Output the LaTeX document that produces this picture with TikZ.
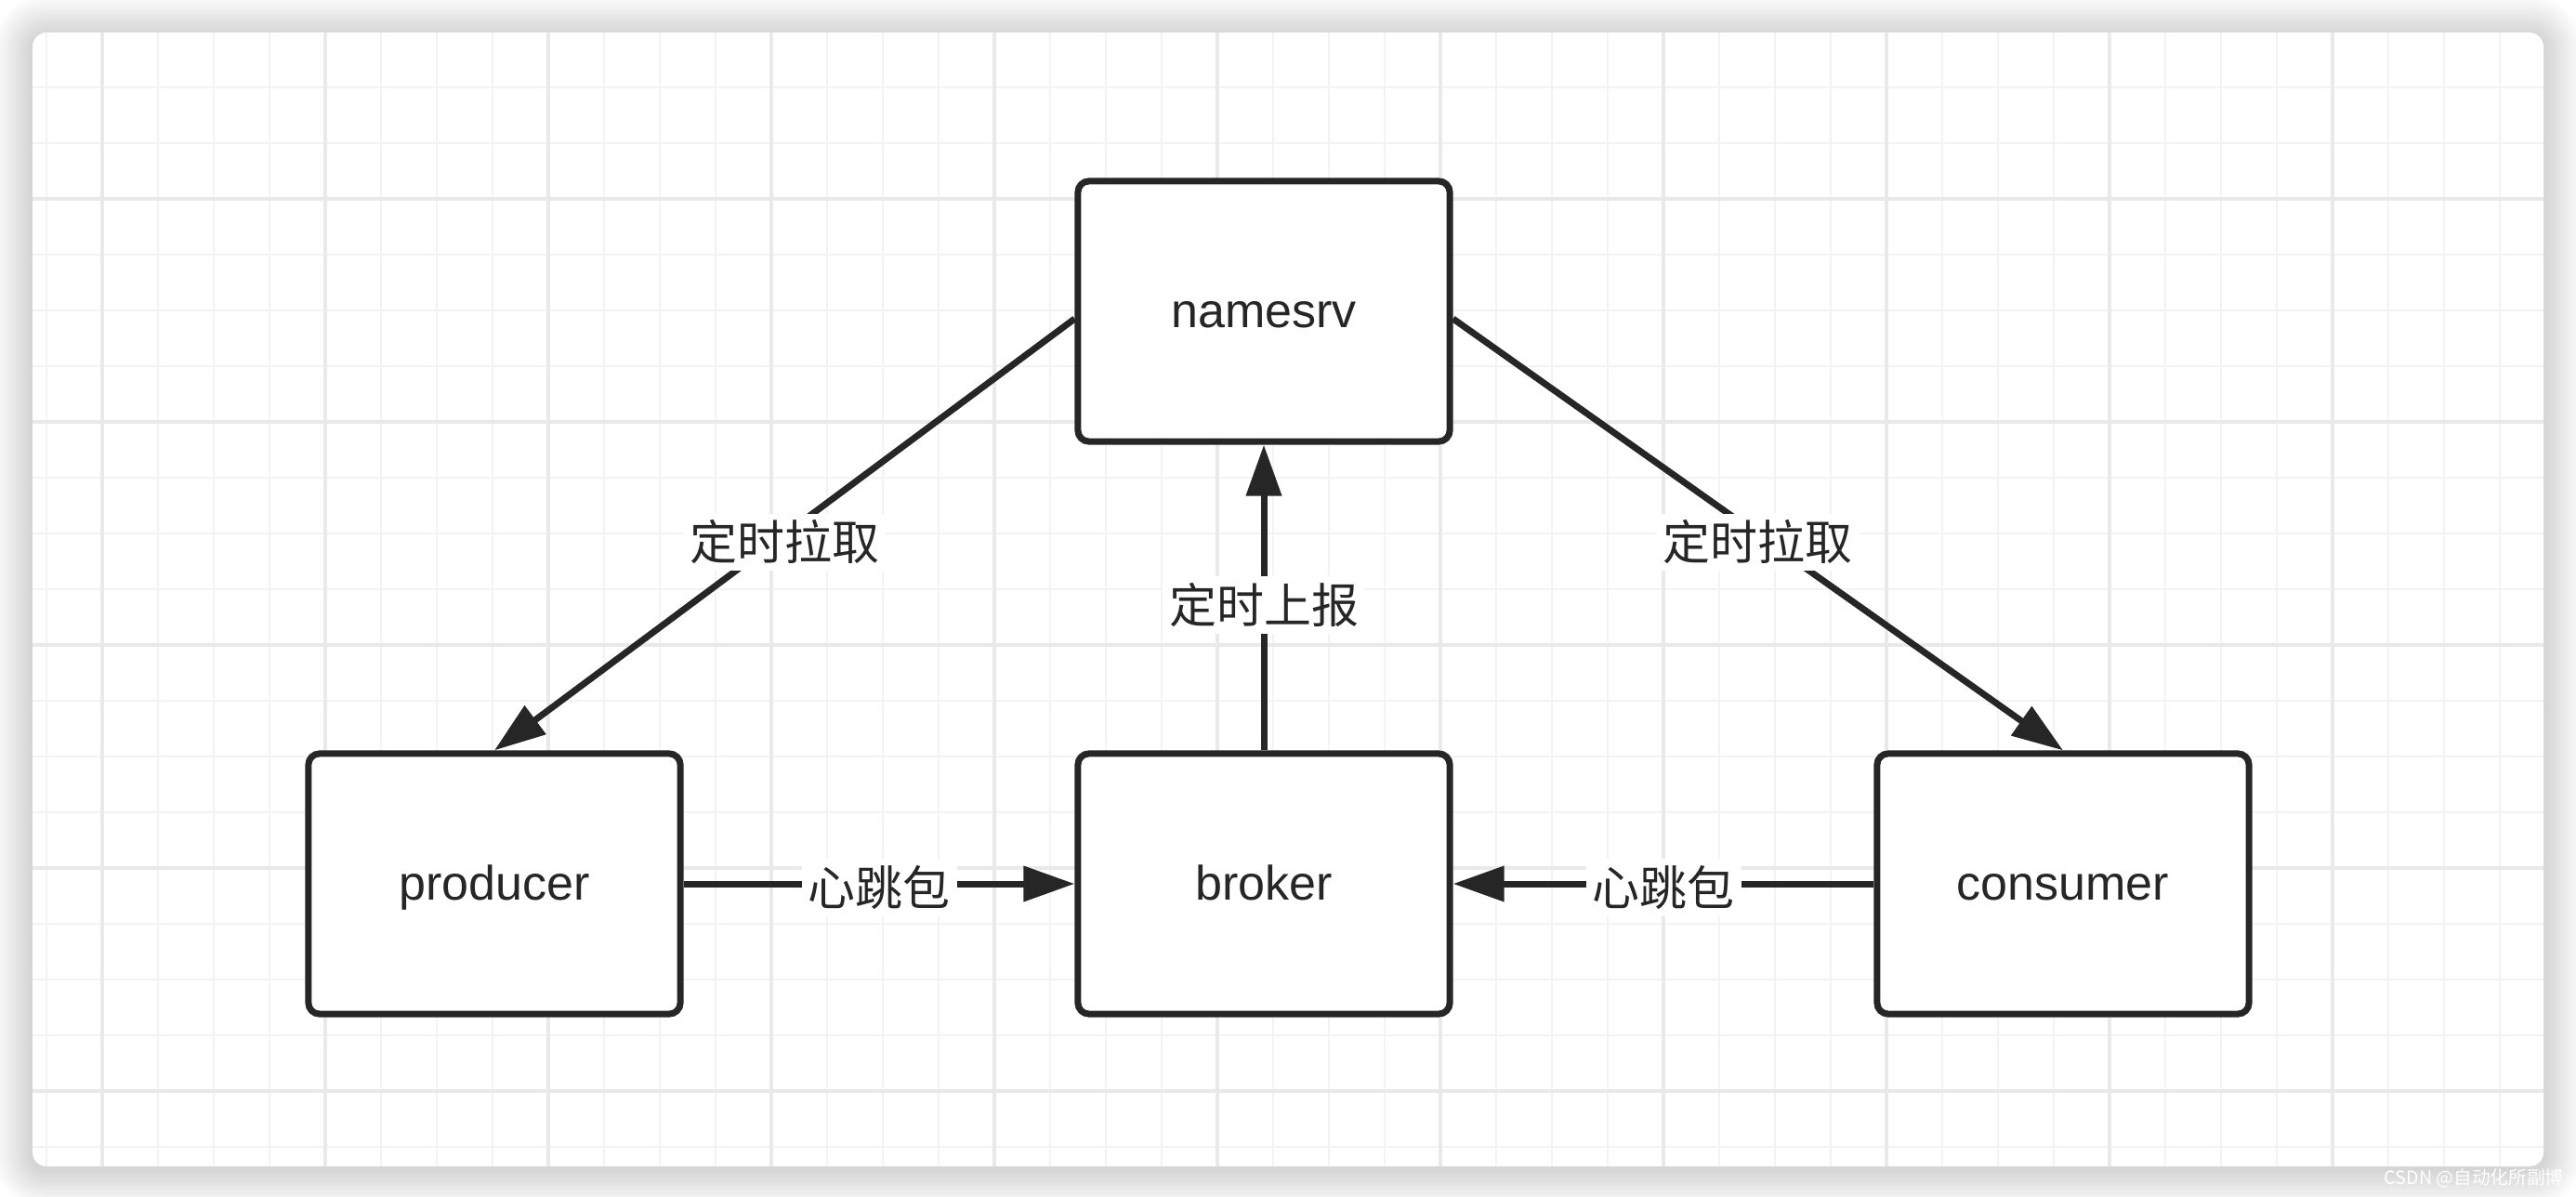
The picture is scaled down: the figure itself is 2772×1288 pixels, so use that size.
\documentclass[tikz,border=0pt]{standalone}
\usepackage{fontspec}
\setmainfont{Liberation Sans}
\newfontfamily\cjk{Noto Sans CJK SC}
\usetikzlibrary{arrows.meta}
\definecolor{ink}{HTML}{262626}
\definecolor{gminor}{HTML}{F3F3F3}
\definecolor{gmajor}{HTML}{E9E9E9}
\tikzset{
  box/.style={draw=ink, line width=0.07cm, rounded corners=0.12cm, fill=white,
    minimum width=4cm, minimum height=2.8cm, text=ink, inner sep=0pt,
    text height=0.35cm, text depth=0cm,
    font=\fontsize{14.8pt}{17pt}\selectfont},
  lbl/.style={fill=white, text=ink, inner xsep=0.07cm, inner ysep=0.07cm,
    yshift=-0.08cm, font=\cjk\fontsize{14.5pt}{17pt}\selectfont},
  conn/.style={draw=ink, line width=0.07cm, -{Triangle[length=0.55cm,width=0.37cm]}},
  minorline/.style={draw=gminor, line width=0.028cm},
  majorline/.style={draw=gmajor, line width=0.035cm}
}
\begin{document}
\begin{tikzpicture}[x=0.01cm, y=-0.01cm]
\useasboundingbox (0,0) rectangle (2772,1288);
\fill[white] (0,0) rectangle (2772,1288);
% soft shadow of the card
\foreach \i [evaluate=\i as \r using 0.15+0.03*\i] in {1,...,14}
  \fill[black, opacity=0.011, rounded corners=\r cm]
    (35-3*\i, 38-3*\i) rectangle (2737+3*\i, 1258+3*\i);
% card
\fill[white, rounded corners=0.15cm] (35,35) rectangle (2737,1255);
\begin{scope}
  \clip[rounded corners=0.15cm] (35,35) rectangle (2737,1255);
  \foreach \x in {50,110,...,2690} \draw[minorline] (\x,35) -- (\x,1255);
  \foreach \y in {34,94,...,1234} \draw[minorline] (35,\y) -- (2737,\y);
  \foreach \x in {110,350,...,2510} \draw[majorline] (\x,35) -- (\x,1255);
  \foreach \y in {214,454,...,1174} \draw[majorline] (35,\y) -- (2737,\y);
\end{scope}
% nodes
\node[box] (ns)   at (1360,335) {namesrv};
\node[box] (prod) at (532,951)  {producer};
\node[box] (brk)  at (1360,951) {broker};
\node[box] (cons) at (2220,951) {consumer};
% connectors
\draw[conn] ([yshift=-0.08cm]ns.west) -- node[lbl] {定时拉取} (prod.north);
\draw[conn] ([yshift=-0.08cm]ns.east) -- node[lbl] {定时拉取} (cons.north);
\draw[conn] (brk.north) -- node[lbl] {定时上报} (ns.south);
\draw[conn] (prod.east) -- node[lbl, yshift=0.04cm] {心跳包} (brk.west);
\draw[conn] (cons.west) -- node[lbl, yshift=0.04cm] {心跳包} (brk.east);
% watermark
\node[anchor=west, inner sep=0pt, font=\cjk\fontsize{5.6pt}{6pt}\selectfont] (wm) at (2565,1268) {\color{white}CSDN @自动化所副博};
\end{tikzpicture}
\end{document}
